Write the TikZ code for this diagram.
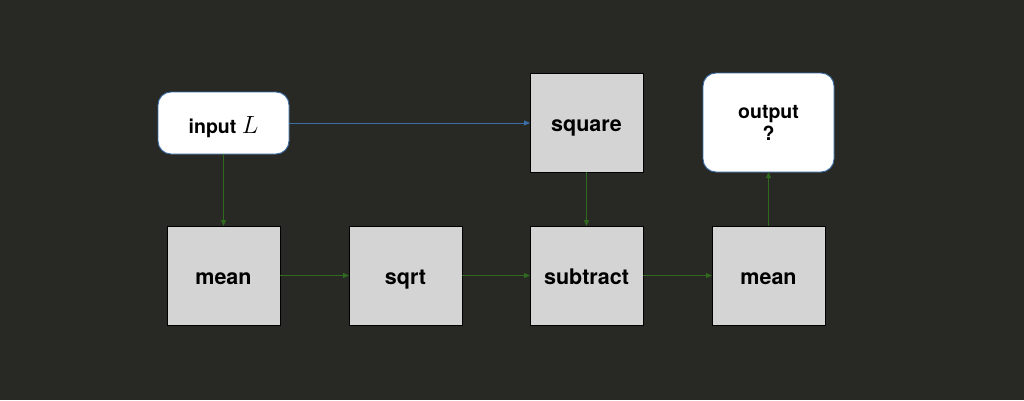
\documentclass[tikz,border=0pt]{standalone}
\usepackage{fontspec}
\setmainfont{TeX Gyre Heros}
\usetikzlibrary{arrows.meta}
\definecolor{bg}{HTML}{282825}
\definecolor{boxfill}{HTML}{D4D4D4}
\definecolor{flowgreen}{HTML}{2F6A1F}
\definecolor{flowblue}{HTML}{3A6EA5}
% label set on a fixed baseline, #1 below the node centre
\newcommand{\atbase}[2]{\raisebox{-#1}[0pt][0pt]{#2}}
\begin{document}
\begin{tikzpicture}[x=1pt,y=-1pt,
  opbox/.style={draw=black,line width=0.8pt,fill=boxfill,minimum width=113pt,minimum height=99pt,
    inner sep=0pt,outer sep=0pt,font=\fontsize{21.5}{25}\selectfont\bfseries},
  iobox/.style={draw=flowblue,line width=0.9pt,fill=white,rounded corners=13pt,inner sep=0pt,outer sep=0pt,
    font=\fontsize{19.5}{22.4}\selectfont\bfseries},
  garrow/.style={draw=flowgreen,line width=1pt,-{Triangle[length=6pt,width=5pt]}},
  barrow/.style={draw=flowblue,line width=1pt,-{Triangle[length=6pt,width=5pt]}}]
  % canvas
  \fill[bg] (0,0) rectangle (1024,400);
  \useasboundingbox (0,0) rectangle (1024,400);
  % input and output
  \node[iobox,minimum width=131pt,minimum height=62pt] (in) at (223.5,123)
    {\atbase{10pt}{input {\fontsize{23}{23}\selectfont$L$}}};
  \node[iobox,minimum width=131pt,minimum height=99pt] (out) at (768.5,122.5)
    {\atbase{18pt}{\begin{tabular}[b]{@{}c@{}}output\\?\end{tabular}}};
  % operations
  \node[opbox] (sq) at (586.5,122.5) {\atbase{8.5pt}{square}};
  \node[opbox] (m1) at (223.5,275.5) {\atbase{8.5pt}{mean}};
  \node[opbox] (rt) at (405.5,275.5) {\atbase{8.5pt}{sqrt}};
  \node[opbox] (sub) at (586.5,275.5) {\atbase{8.5pt}{subtract}};
  \node[opbox] (m2) at (768.5,275.5) {\atbase{8.5pt}{mean}};
  % data flow
  \draw[barrow] (in.east) -- (sq.west |- in.east);
  \draw[garrow] (in.south) -- (m1.north);
  \draw[garrow] (m1.east) -- (rt.west);
  \draw[garrow] (rt.east) -- (sub.west);
  \draw[garrow] (sq.south) -- (sub.north);
  \draw[garrow] (sub.east) -- (m2.west);
  \draw[garrow] (m2.north) -- (out.south);
\end{tikzpicture}
\end{document}
